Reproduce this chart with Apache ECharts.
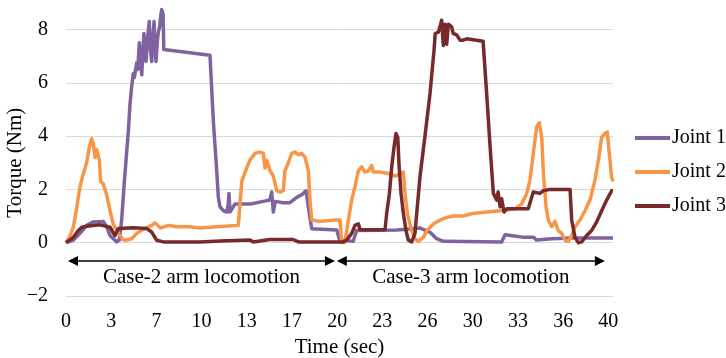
<!DOCTYPE html>
<html>
<head>
<meta charset="utf-8">
<script src="https://cdn.jsdelivr.net/npm/echarts@6/dist/echarts.min.js"></script>
<style>
html,body{margin:0;padding:0;background:#fff;}
#chart{width:726px;height:358px;}
</style>
</head>
<body>
<div id="chart"></div>
<script>
// ---- Data ----
var tickTimes = [0, 3.305, 6.61, 9.915, 13.22, 16.525, 19.83, 23.135, 26.44, 29.745, 33.05, 36.355, 39.66];
var tickLabels = ['0','3','7','10','13','17','20','23','26','30','33','36','40'];

var joint1Time = [0,0.54,1.02,1.51,2.0,2.73,2.97,3.22,3.46,3.71,3.9,4.07,4.24,4.39,4.56,4.68,4.8,4.92,5.0,5.17,5.25,5.36,5.45,5.54,5.62,5.7,5.78,5.85,5.95,6.09,6.18,6.27,6.35,6.44,6.52,6.58,6.67,6.75,6.85,6.95,7.0,7.1,7.15,10.53,10.77,11.02,11.14,11.26,11.5,11.75,11.85,11.92,11.99,12.36,13.5,14.43,14.9,15.04,15.16,15.3,15.89,16.38,16.87,17.24,17.55,17.72,17.97,19.8,20.0,21.0,21.25,24.2,25.9,26.6,27.1,27.6,31.86,32.1,32.8,33.5,34.2,34.4,35.5,37,40];
var joint1 = [0,0.1,0.35,0.65,0.78,0.8,0.6,0.27,0.15,0.03,0.1,0.85,2.1,3.1,4.2,5.2,5.85,6.35,6.2,6.75,6.5,7.5,6.9,6.3,7.2,7.85,7.0,6.8,7.6,8.3,7.2,6.8,7.6,8.3,7.2,6.8,7.5,7.9,8.1,8.6,8.75,8.6,7.25,7.03,4.6,2.7,1.7,1.35,1.2,1.15,1.4,1.85,1.15,1.45,1.45,1.55,1.6,1.9,1.15,1.55,1.5,1.5,1.7,1.8,1.95,1.35,0.52,0.48,0.1,0.05,0.46,0.48,0.55,0.4,0.15,0.05,0.03,0.3,0.25,0.2,0.2,0.1,0.15,0.18,0.18];

var joint2Time = [0,0.3,0.54,0.78,1.02,1.27,1.51,1.71,1.88,2.0,2.12,2.24,2.44,2.53,2.73,2.97,3.22,3.46,3.83,4.19,4.44,4.8,5.17,5.65,6.27,6.5,6.9,7.5,8.1,9.0,9.8,11.0,12.6,12.85,13.21,13.45,13.82,14.19,14.43,14.55,14.68,14.92,15.16,15.41,15.65,15.89,16.01,16.26,16.5,16.75,16.99,17.24,17.48,17.72,17.84,17.97,18.57,19.67,20.04,20.16,20.4,20.65,20.89,21.13,21.38,21.62,21.86,22.11,22.35,22.47,22.96,23.57,24.06,24.67,24.79,24.96,25.28,25.52,25.77,26.13,26.38,26.86,27.35,27.84,28.32,29.05,29.78,30.76,31.74,32.83,33.32,33.69,33.93,34.17,34.42,34.61,34.79,34.91,35.1,35.27,35.52,35.76,36.0,36.25,36.49,36.73,36.98,37.22,37.59,37.95,38.32,38.68,38.93,39.17,39.41,39.58,39.73,39.9,40.0];
var joint2 = [0,0.25,0.6,1.3,2.1,2.6,3.0,3.6,3.9,3.7,3.2,3.5,3.1,2.3,2.2,1.8,1.2,0.7,0.35,0.1,0.1,0.15,0.35,0.5,0.65,0.75,0.55,0.65,0.6,0.6,0.55,0.6,0.65,2.3,2.8,3.1,3.35,3.4,3.35,2.8,3.1,2.7,2.5,1.95,1.9,1.95,2.7,3.0,3.35,3.4,3.3,3.35,3.2,2.7,1.6,0.85,0.8,0.85,0.85,0.02,0.02,0.85,1.6,2.1,2.7,2.85,2.65,2.7,2.9,2.65,2.65,2.6,2.5,2.65,1.85,1.1,0.45,0.15,0.05,0.2,0.45,0.7,0.85,0.95,1.0,1.0,1.1,1.15,1.2,1.27,1.45,1.85,2.35,3.35,4.35,4.5,3.95,2.6,1.35,0.85,0.6,0.8,0.45,0.35,0.1,0.05,0.27,0.6,0.85,1.2,1.6,2.35,3.1,3.95,4.1,4.15,3.35,2.45,2.3];

var joint3Time = [0,0.54,0.9,1.15,1.51,2.49,3.22,3.58,3.83,4.92,5.9,6.27,6.63,7.12,9.8,11.26,13.45,13.7,14.9,16.6,17.0,20.28,20.53,20.89,21.13,21.38,21.5,23.33,23.45,23.65,23.82,23.99,24.13,24.26,24.35,24.5,24.67,24.86,25.03,25.28,25.52,25.69,25.89,26.25,26.62,26.91,27.0,27.23,27.35,27.47,27.59,27.72,27.84,27.96,28.2,28.32,28.57,28.81,29.05,29.3,30.5,30.76,31.0,31.25,31.49,31.6,31.74,31.86,32.03,32.23,33.8,34.17,34.66,34.91,35.39,36.86,36.98,37.22,37.46,37.71,38.07,38.44,38.81,39.17,39.54,39.9,40.0];
var joint3 = [0,0.2,0.46,0.58,0.62,0.67,0.58,0.27,0.53,0.56,0.53,0.4,0.09,0.03,0.03,0.06,0.1,0.03,0.12,0.12,0.03,0.03,0.1,0.35,0.65,0.71,0.49,0.49,1.1,1.85,2.85,3.6,4.1,3.95,2.95,1.85,1.1,0.46,0.1,0.03,0.35,1.35,2.5,4.0,5.6,7.2,7.85,7.9,8.1,8.35,7.4,8.2,7.45,8.2,8.1,7.85,7.8,7.6,7.6,7.65,7.56,5.6,3.7,1.85,1.6,1.9,1.35,1.65,1.15,1.27,1.27,1.9,1.85,1.95,2.0,2.0,0.85,0.2,0.0,0.03,0.27,0.46,0.78,1.2,1.6,1.95,1.95];

var seriesNames = ['Joint 1', 'Joint 2', 'Joint 3'];
var seriesColors = ['#7f63a1', '#f79646', '#772a2a'];

// annotation arrows (data coords)
var arrowY = -0.69;
var arrowCase2 = [0.51, 19.3];
var arrowCase3 = [20.17, 39.04];
var arrowTexts = ['Case-2 arm locomotion', 'Case-3 arm locomotion'];

function zip(t, v) { return t.map(function (x, i) { return [x, v[i]]; }); }

var FONT = "'Liberation Serif', 'Times New Roman', serif";
var chart = echarts.init(document.getElementById('chart'));

var allTimes = [joint1Time, joint2Time, joint3Time];
var allVals = [joint1, joint2, joint3];

var series = seriesNames.map(function (n, i) {
  return {
    name: n,
    type: 'line',
    data: zip(allTimes[i], allVals[i]),
    showSymbol: false,
    symbol: 'none',
    clip: false,
    lineStyle: { width: 3.5, color: seriesColors[i], join: 'round' },
    itemStyle: { color: seriesColors[i] },
    animation: false
  };
});

series[0].markLine = {
  silent: true,
  animation: false,
  symbol: ['triangle', 'triangle'],
  symbolSize: 10,
  lineStyle: { color: '#000', width: 1.5, type: 'solid' },
  itemStyle: { color: '#000' },
  label: {
    show: true,
    position: 'insideMiddleBottom',
    formatter: '{b}',
    color: '#000',
    fontFamily: FONT,
    fontSize: 21,
    distance: 6
  },
  emphasis: { disabled: true },
  data: [
    [{ coord: [arrowCase2[0], arrowY], name: arrowTexts[0] }, { coord: [arrowCase2[1], arrowY] }],
    [{ coord: [arrowCase3[0], arrowY], name: arrowTexts[1] }, { coord: [arrowCase3[1], arrowY] }]
  ]
};

chart.setOption({
  backgroundColor: '#fff',
  animation: false,
  textStyle: { fontFamily: FONT },
  grid: { left: 66, right: 113, top: 29.5, bottom: 62, outerBoundsMode: 'none', containLabel: false },
  legend: {
    data: seriesNames,
    orient: 'vertical',
    left: 630,
    top: 123,
    itemGap: 14,
    itemWidth: 35,
    itemHeight: 4,
    icon: 'rect',
    textStyle: { fontFamily: FONT, fontSize: 20, color: '#000', lineHeight: 20, padding: [0, 0, 0, -3] }
  },
  xAxis: {
    type: 'value',
    min: 0,
    max: 40,
    name: 'Time (sec)',
    nameLocation: 'middle',
    nameGap: 38,
    nameTextStyle: { fontFamily: FONT, fontSize: 21, color: '#000' },
    axisLine: { show: false },
    axisTick: { show: false },
    splitLine: { show: false },
    axisLabel: {
      customValues: tickTimes,
      formatter: function (v) {
        var idx = tickTimes.indexOf(v);
        if (idx < 0) {
          var best = 0, d = 1e9;
          tickTimes.forEach(function (t, i) { if (Math.abs(t - v) < d) { d = Math.abs(t - v); best = i; } });
          idx = best;
        }
        return tickLabels[idx];
      },
      margin: 16,
      fontFamily: FONT,
      fontSize: 20,
      color: '#000'
    }
  },
  yAxis: {
    type: 'value',
    min: -2,
    max: 8,
    interval: 2,
    name: 'Torque (Nm)',
    nameLocation: 'middle',
    nameGap: 40,
    nameMoveOverlap: false,
    nameTextStyle: { fontFamily: FONT, fontSize: 21, color: '#000' },
    axisLine: { show: false },
    axisTick: { show: false },
    splitLine: { show: true, lineStyle: { color: '#d9d9d9', width: 1 } },
    axisLabel: {
      formatter: function (v) { return v < 0 ? '\u2212' + Math.abs(v) : String(v); },
      margin: 18,
      fontFamily: FONT,
      fontSize: 20,
      color: '#000'
    }
  },
  series: series
});
</script>
</body>
</html>
